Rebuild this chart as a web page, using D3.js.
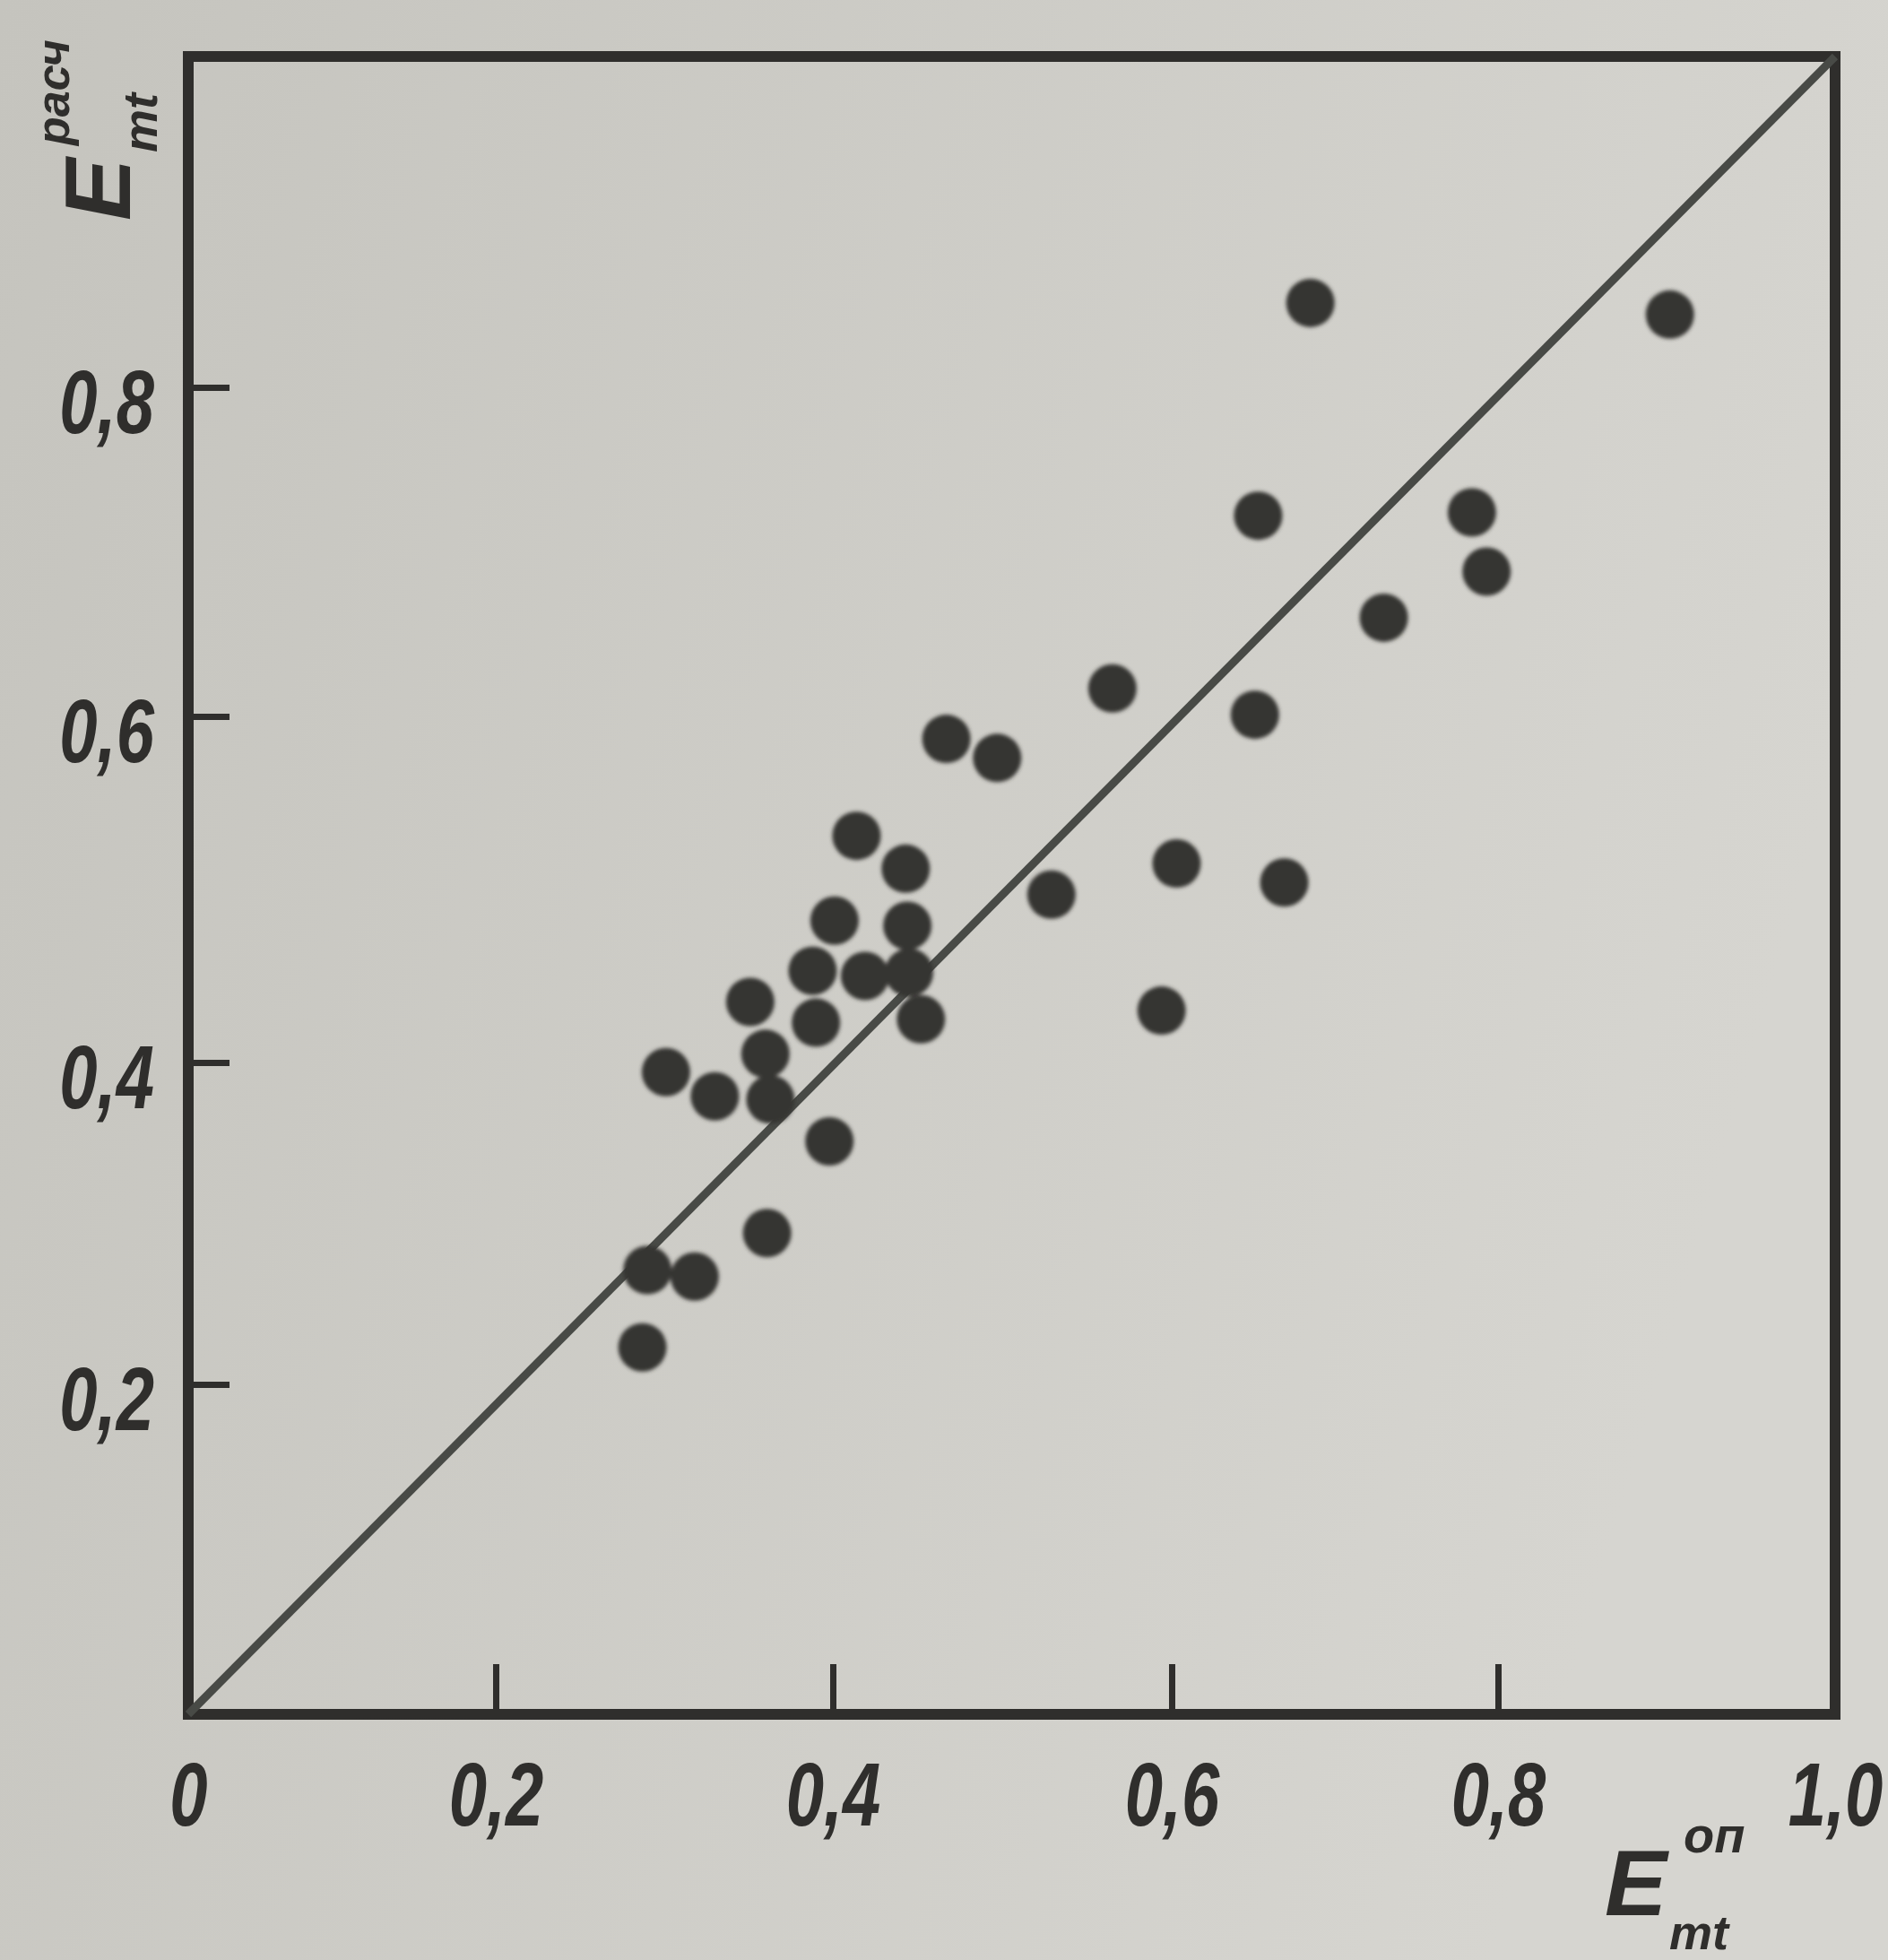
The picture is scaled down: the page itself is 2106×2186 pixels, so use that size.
<!DOCTYPE html>
<html lang="ru">
<head>
  <meta charset="UTF-8">
  <title>E расч vs E оп</title>
  <style>
    body { margin: 0; background: #cdccc6; }
    svg { display: block; }
  </style>
  <script src="https://d3js.org/d3.v7.min.js"></script>
</head>
<body>
<div id="chart"></div>
<script>
  // tick values
  var xTicks = [0, 0.2, 0.4, 0.6, 0.8, 1.0];
  var yTicks = [0.2, 0.4, 0.6, 0.8];

  var eExp = [0.685, 0.902, 0.653, 0.784, 0.793, 0.730, 0.565, 0.651, 0.467, 0.497,
              0.414, 0.443, 0.603, 0.529, 0.669, 0.401, 0.444, 0.388, 0.419, 0.445,
              0.594, 0.390, 0.452, 0.351, 0.360, 0.363, 0.301, 0.330, 0.398, 0.361,
              0.290, 0.318, 0.287];
  var eCalc = [0.851, 0.844, 0.722, 0.724, 0.688, 0.660, 0.617, 0.601, 0.587, 0.576,
               0.531, 0.512, 0.515, 0.497, 0.504, 0.482, 0.479, 0.453, 0.450, 0.452,
               0.430, 0.423, 0.425, 0.435, 0.405, 0.377, 0.394, 0.379, 0.351, 0.294,
               0.271, 0.267, 0.223];

  var width = 2106;
  var height = 2186;

  // the photographed scale is slightly uneven, so the ranges follow the printed ticks
  var xScale = d3.scaleLinear()
          .domain([0, 0.2, 0.4, 0.6, 0.8, 1.0])
          .range([210, 553, 929, 1307, 1671, 2047]);
  var yScale = d3.scaleLinear()
          .domain([0, 0.2, 0.4, 0.6, 0.8, 1.0])
          .range([1912, 1544, 1185, 799, 432, 63]);

  var fmt = function(d) {
    return d === 0 ? "0" : d3.format(".1f")(d).replace(".", ",");
  };

  var svg = d3.select("#chart")
          .append("svg")
          .attr("width", width)
          .attr("height", height);

  // paper
  var grad = svg.append("defs").append("linearGradient")
          .attr("id", "paper")
          .attr("x1", 0).attr("y1", 0).attr("x2", 1).attr("y2", 0.3);
  grad.append("stop").attr("offset", 0).attr("stop-color", "#c5c4be");
  grad.append("stop").attr("offset", 1).attr("stop-color", "#d6d5d0");
  svg.select("defs").append("filter")
          .attr("id", "soft")
          .append("feGaussianBlur").attr("stdDeviation", 2.2);

  svg.append("rect")
          .attr("width", width)
          .attr("height", height)
          .attr("fill", "url(#paper)");

  // axes with inward ticks
  var xAxis = svg.append("g")
          .attr("transform", "translate(0," + yScale(0) + ")")
          .call(d3.axisBottom(xScale)
                  .tickValues(xTicks)
                  .tickSizeInner(-56)
                  .tickSizeOuter(0)
                  .tickPadding(50)
                  .tickFormat(fmt));

  var yAxis = svg.append("g")
          .attr("transform", "translate(" + xScale(0) + ",0)")
          .call(d3.axisLeft(yScale)
                  .tickValues(yTicks)
                  .tickSizeInner(-46)
                  .tickSizeOuter(0)
                  .tickPadding(40)
                  .tickFormat(fmt));

  [xAxis, yAxis].forEach(function(ax) {
    ax.select(".domain").remove();
    ax.selectAll(".tick line")
            .attr("stroke", "#2f2e2c")
            .attr("stroke-width", 7);
    ax.selectAll(".tick text")
            .attr("fill", "#2f2e2c")
            .style("font-family", "'Liberation Sans', Arial, sans-serif")
            .style("font-style", "italic")
            .style("font-weight", "bold")
            .style("font-size", "100px");
  });
  // narrow lettering, as in the printed figure
  yAxis.selectAll(".tick text")
          .attr("x", 0)
          .attr("dy", "0.5em")
          .attr("transform", "translate(-38,0) scale(0.76,1)");
  xAxis.selectAll(".tick text")
          .attr("dy", "0.74em")
          .attr("transform", "scale(0.76,1)");

  // frame
  svg.append("rect")
          .attr("x", xScale(0))
          .attr("y", yScale(1))
          .attr("width", xScale(1) - xScale(0))
          .attr("height", yScale(0) - yScale(1))
          .attr("fill", "none")
          .attr("stroke", "#2f2e2c")
          .attr("stroke-width", 12);

  // line of equality
  svg.append("path")
          .datum([[0, 0], [1, 1]])
          .attr("d", d3.line()
                  .x(function(d) { return xScale(d[0]); })
                  .y(function(d) { return yScale(d[1]); }))
          .attr("fill", "none")
          .attr("stroke", "#484a46")
          .attr("stroke-width", 9);

  // points
  var points = eExp.map(function(v, i) { return { x: v, y: eCalc[i] }; });
  svg.append("g")
          .attr("filter", "url(#soft)")
          .selectAll("circle")
          .data(points)
          .enter()
          .append("circle")
          .attr("cx", function(d) { return xScale(d.x); })
          .attr("cy", function(d) { return yScale(d.y); })
          .attr("r", 27)
          .attr("fill", "#363432");

  // axis titles
  var titleFont = function(sel, size) {
    sel.attr("fill", "#2f2e2c")
            .style("font-family", "'Liberation Sans', Arial, sans-serif")
            .style("font-style", "italic")
            .style("font-weight", "bold")
            .style("font-size", size + "px");
  };

  var yTitle = svg.append("g").attr("transform", "translate(145,246) rotate(-90)");
  yTitle.append("text").attr("x", 0).attr("y", 0).text("E").call(titleFont, 104);
  yTitle.append("text").attr("x", 76).attr("y", 30).text("mt").call(titleFont, 54);
  yTitle.append("text").attr("x", 84).attr("y", -68).text("расч").call(titleFont, 52);

  var xTitle = svg.append("g").attr("transform", "translate(1790,2136)");
  xTitle.append("text").attr("x", 0).attr("y", 0).text("E").call(titleFont, 104);
  xTitle.append("text").attr("x", 72).attr("y", 38).text("mt").call(titleFont, 54);
  xTitle.append("text").attr("x", 88).attr("y", -70).text("оп").call(titleFont, 56);
</script>
</body>
</html>
